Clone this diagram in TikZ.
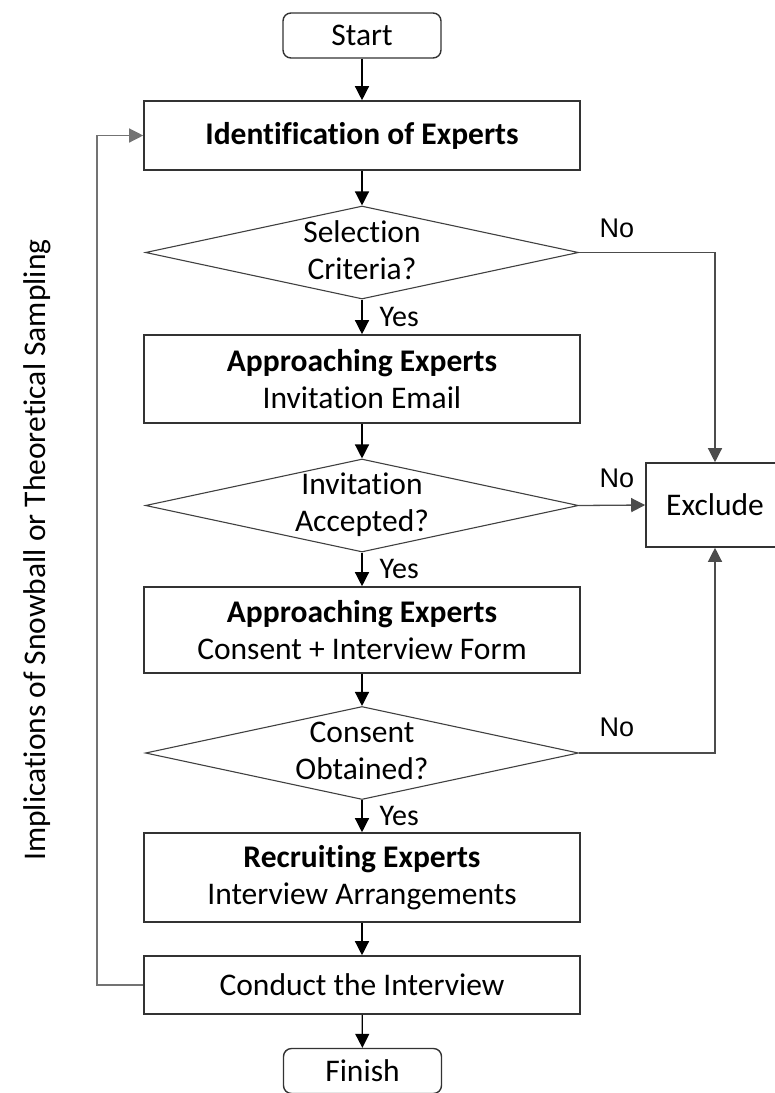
\documentclass[tikz,border=0pt]{standalone}
\usepackage{fontspec}
\setmainfont{Carlito}[RawFeature={-liga;-clig;-calt;-dlig}]
\newfontfamily\arialfont{Liberation Sans}
\usetikzlibrary{shapes.geometric,arrows.meta}
\begin{document}
\begin{tikzpicture}[x=1pt,y=-1pt,
  font=\fontsize{31.5}{37}\selectfont,
  box/.style={draw=black!80,line width=1.6pt,rectangle,minimum width=436pt,inner sep=0pt,align=center},
  term/.style={draw=black!80,line width=1.4pt,rounded corners=8pt,minimum width=158pt,minimum height=45pt,inner sep=0pt},
  dia/.style={draw=black!75,line width=1.1pt,diamond,minimum width=433pt,minimum height=93pt,inner sep=0pt},
  dtext/.style={align=center,inner sep=0pt},
  flow/.style={-{Triangle[length=14pt,width=14pt]},line width=1.3pt,black},
  side/.style={flow,draw=black!70},
  yeslbl/.style={inner sep=0pt,anchor=west,xshift=17pt,font=\fontsize{30}{34}\selectfont},
  nolbl/.style={inner sep=0pt,font=\arialfont\fontsize{27}{32}\selectfont}
]
\useasboundingbox (0,0) rectangle (775,1093);

% main column
\node[term] (start) at (362,35.5) {Start};
\node[box,minimum height=69pt] (ident) at (362,135.5) {\textbf{Identification of Experts}};
\node[dia] (d1) at (362,252.5) {};
\node[dtext] (d1t) at (362,250) {Selection\\Criteria?};
\node[box,minimum height=88pt] (b2) at (362,379) {\textbf{Approaching Experts}\\Invitation Email};
\node[dia] (d2) at (362,505.5) {};
\node[dtext] (d2t) at (362,505) {Invitation\\Accepted?};
\node[box,minimum height=86pt] (b3) at (362,630) {\textbf{Approaching Experts}\\Consent + Interview Form};
\node[dia] (d3) at (362,753) {};
\node[dtext] (d3t) at (362,751) {Consent\\Obtained?};
\node[box,minimum height=89pt] (b4) at (362,877.5) {\textbf{Recruiting Experts}\\Interview Arrangements};
\node[box,minimum height=58pt] (conduct) at (362,985) {Conduct the Interview};
\node[term] (finish) at (362.5,1071) {Finish};

% rejection branch
\node[draw=black!80,line width=1.6pt,minimum width=138pt,minimum height=84pt,inner sep=0pt] (excl) at (715,505) {Exclude};

% side caption
\node[rotate=90,inner sep=0pt] (caption) at (37,550) {Implications of Snowball or Theoretical Sampling};

% connectors
\draw[flow] (start) -- (ident);
\draw[flow] (ident) -- (d1);
\draw[flow] (d1) -- node[yeslbl] (y1) {Yes} (b2);
\draw[flow] (b2) -- (d2);
\draw[flow] (d2) -- node[yeslbl] (y2) {Yes} (b3);
\draw[flow] (b3) -- (d3);
\draw[flow] (d3) -- node[yeslbl] (y3) {Yes} (b4);
\draw[flow] (b4) -- (conduct);
\draw[flow] (conduct) -- (finish);

\draw[side] (d1.east) -| (excl.north);
\draw[side] (d2.east) -- (excl.west);
\draw[side] (d3.east) -| (excl.south);
\node[nolbl] (n1) at (617,228) {No};
\node[nolbl] (n2) at (617,478) {No};
\node[nolbl] (n3) at (617,727) {No};

% feedback loop
\coordinate (loop) at (97,985);
\draw[side,draw=black!55] (conduct.west) -- (loop) |- (ident.west);
\end{tikzpicture}
\end{document}
